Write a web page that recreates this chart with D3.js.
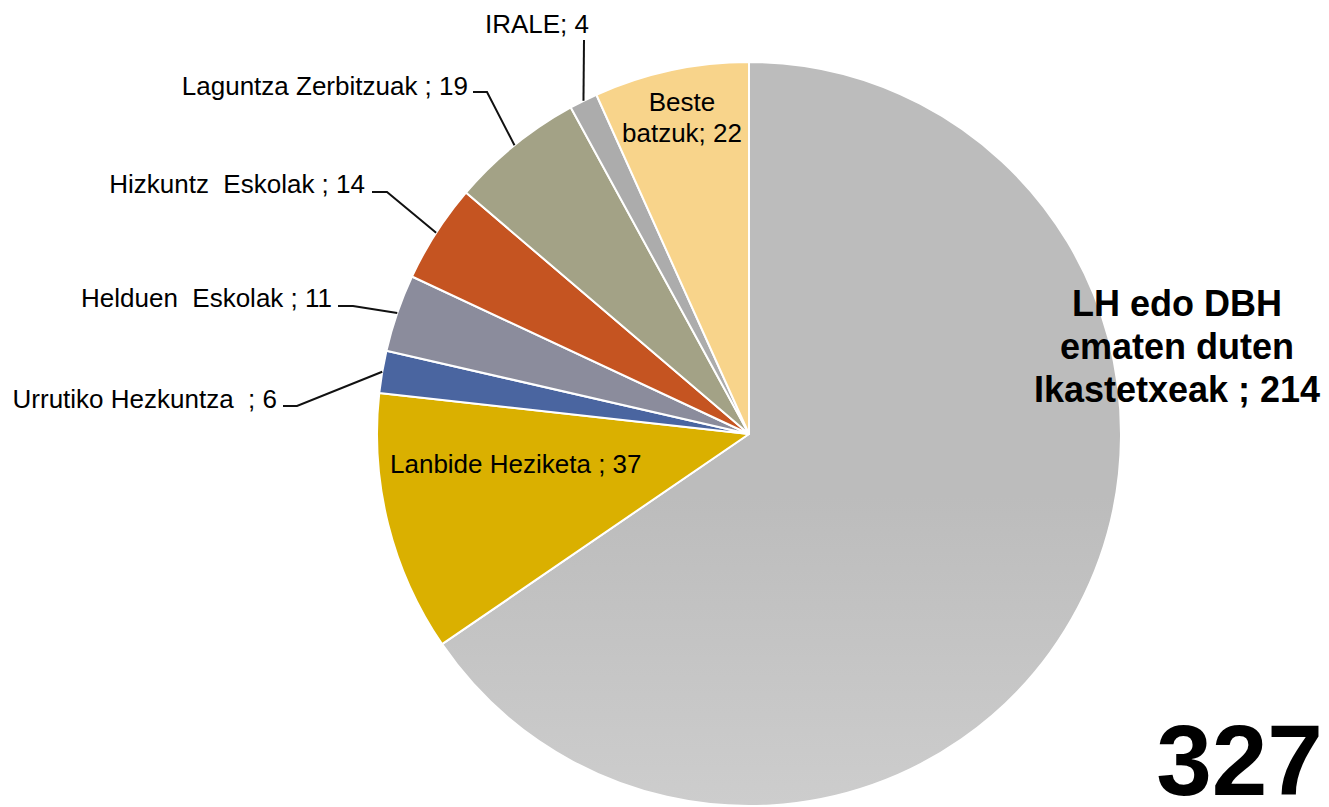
<!DOCTYPE html>
<html>
<head>
<meta charset="utf-8">
<script src="https://cdn.jsdelivr.net/npm/d3@7"></script>
<style>
  html, body { margin: 0; padding: 0; background: #fff; }
  svg { display: block; }
  text { font-family: "Liberation Sans", Arial, sans-serif; fill: #000; }
</style>
</head>
<body>
<svg id="chart" width="1329" height="807"></svg>
<script>
// ---- data ----
const categories = ["LH edo DBH ematen duten Ikastetxeak", "Lanbide Heziketa", "Urrutiko Hezkuntza", "Helduen Eskolak", "Hizkuntz Eskolak", "Laguntza Zerbitzuak", "IRALE", "Beste batzuk"];
const values = [214, 37, 6, 11, 14, 19, 4, 22];
const labelLines = [
  ["LH edo DBH", "ematen duten", "Ikastetxeak ; 214"],
  ["Lanbide Heziketa ; 37"],
  ["Urrutiko Hezkuntza  ; 6"],
  ["Helduen  Eskolak ; 11"],
  ["Hizkuntz  Eskolak ; 14"],
  ["Laguntza Zerbitzuak ; 19"],
  ["IRALE; 4"],
  ["Beste", "batzuk; 22"]
];
const colors = ["url(#bigGrad)", "#dab000", "#4a65a0", "#8b8c9c", "#c55421", "#a3a286", "#acacac", "#f8d48b"];

// ---- layout ----
const cx = 749, cy = 434, R = 372;
const layout = [
  {x: 1177, y: 316, anchor: "middle", size: 36, weight: "bold", lh: 43, leader: null},
  {x: 390, y: 473, anchor: "start", size: 26, weight: "normal", lh: 0, leader: null},
  {x: 277, y: 408, anchor: "end", size: 26, weight: "normal", lh: 0, leader: {ex: 297, ey: 406, sx: 283}},
  {x: 332, y: 307, anchor: "end", size: 26, weight: "normal", lh: 0, leader: {ex: 353, ey: 306, sx: 338}},
  {x: 365, y: 193, anchor: "end", size: 26, weight: "normal", lh: 0, leader: {ex: 387, ey: 192, sx: 372}},
  {x: 468, y: 95, anchor: "end", size: 26, weight: "normal", lh: 0, leader: {ex: 487, ey: 92, sx: 473}},
  {x: 589, y: 33, anchor: "end", size: 26, weight: "normal", lh: 0, leader: {ex: 584, ey: 40, sx: 584}},
  {x: 682, y: 111, anchor: "middle", size: 26, weight: "normal", lh: 31, leader: null}
];

const svg = d3.select("#chart");
const defs = svg.append("defs");
const grad = defs.append("linearGradient")
  .attr("id", "bigGrad").attr("gradientUnits", "userSpaceOnUse")
  .attr("x1", 0).attr("y1", cy - R).attr("x2", 0).attr("y2", cy + R);
grad.append("stop").attr("offset", "0%").attr("stop-color", "#bcbcbc");
grad.append("stop").attr("offset", "100%").attr("stop-color", "#e5e5e5");

const pie = d3.pie().sort(null).value(d => d)(values);
const arc = d3.arc().innerRadius(0).outerRadius(R);
const edge = d3.arc().innerRadius(R).outerRadius(R);

const g = svg.append("g").attr("transform", `translate(${cx},${cy})`);
g.selectAll("path.slice").data(pie).join("path")
  .attr("class", "slice")
  .attr("d", arc)
  .attr("fill", (d, i) => colors[i])
  .attr("stroke", "#fff")
  .attr("stroke-width", 2)
  .attr("stroke-linejoin", "round");

// leaders
pie.forEach((d, i) => {
  const L = layout[i].leader;
  if (!L) return;
  const [px, py] = edge.centroid(d);
  const pts = [[px + cx, py + cy], [L.ex, L.ey], [L.sx, L.ey]];
  svg.append("polyline")
    .attr("points", pts.map(p => p.join(",")).join(" "))
    .attr("fill", "none").attr("stroke", "#111").attr("stroke-width", 2);
});

// labels
labelLines.forEach((lines, i) => {
  const L = layout[i];
  const t = svg.append("text")
    .attr("text-anchor", L.anchor)
    .attr("font-size", L.size)
    .attr("font-weight", L.weight)
    .style("white-space", "pre");
  lines.forEach((ln, j) => {
    t.append("tspan").attr("x", L.x).attr("y", L.y + j * L.lh).text(ln);
  });
});

// total
svg.append("text")
  .attr("x", 1323).attr("y", 795)
  .attr("text-anchor", "end")
  .attr("font-size", 100).attr("font-weight", "bold")
  .text(d3.sum(values));
</script>
</body>
</html>
